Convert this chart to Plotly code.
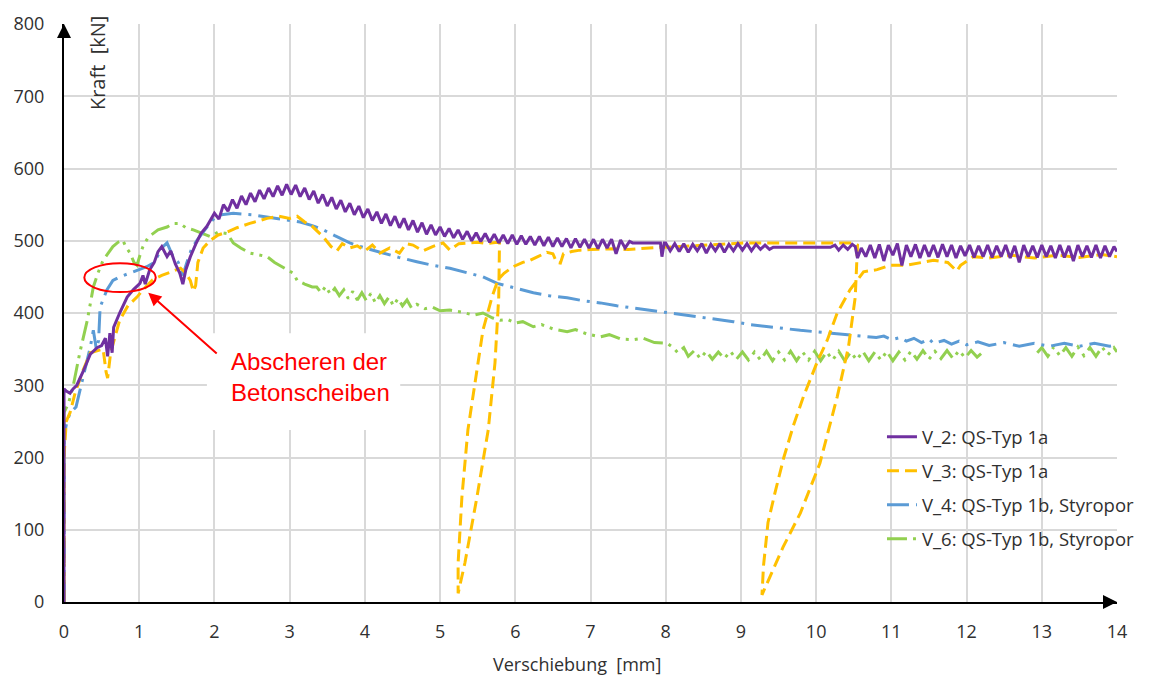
import plotly.graph_objects as go

# ---------------- data ----------------
v2_x = [0, 0.0, 0.03, 0.08, 0.12, 0.17, 0.25, 0.35, 0.44, 0.50, 0.55, 0.58, 0.61, 0.64, 0.66, 0.74, 0.84, 0.92,
        1.01, 1.05, 1.08, 1.14, 1.20, 1.25, 1.30, 1.37, 1.42, 1.48, 1.54, 1.58, 1.62, 1.68, 1.75, 1.82, 1.90, 1.95,
        2.00, 2.06, 2.12, 2.18, 2.24, 2.30, 2.36, 2.42, 2.48, 2.54, 2.60, 2.66, 2.72, 2.78, 2.84, 2.90, 2.96,
        3.02, 3.08, 3.14, 3.20, 3.26, 3.32, 3.38, 3.44, 3.50, 3.56, 3.62, 3.68, 3.74, 3.80, 3.86, 3.92, 3.98,
        4.04, 4.10, 4.16, 4.22, 4.28, 4.34, 4.40, 4.46, 4.52, 4.58, 4.64, 4.70, 4.76, 4.82, 4.88, 4.94,
        5.00, 5.06, 5.12, 5.18, 5.24, 5.30, 5.36, 5.42, 5.48, 5.54, 5.60, 5.66, 5.72, 5.78, 5.84, 5.90, 5.96,
        6.02, 6.08, 6.14, 6.20, 6.26, 6.32, 6.38, 6.44, 6.50, 6.56, 6.62, 6.68, 6.74, 6.80, 6.86, 6.92, 6.98,
        7.04, 7.10, 7.16, 7.22, 7.28, 7.34, 7.40, 7.46, 7.52, 7.56, 7.93, 7.95, 7.98,
        8.00, 8.06, 8.12, 8.18, 8.24, 8.30, 8.36, 8.42, 8.48, 8.54, 8.60, 8.66, 8.72, 8.78, 8.84, 8.90, 8.96,
        9.02, 9.08, 9.14, 9.20, 9.26, 9.32, 9.38, 9.43, 10.19,
        10.25, 10.30, 10.36, 10.42, 10.48, 10.52, 10.55, 10.60, 10.66, 10.72, 10.78, 10.84, 10.90, 10.96,
        11.02, 11.08, 11.14, 11.20, 11.26, 11.32, 11.38, 11.44, 11.50, 11.56, 11.62, 11.68, 11.74, 11.80, 11.86, 11.92, 11.98,
        12.04, 12.10, 12.16, 12.22, 12.28, 12.34, 12.40, 12.46, 12.52, 12.58, 12.64, 12.70, 12.76, 12.82, 12.88, 12.94,
        13.00, 13.06, 13.12, 13.18, 13.24, 13.30, 13.36, 13.42, 13.48, 13.54, 13.60, 13.66, 13.72, 13.78, 13.84, 13.90, 13.96, 14.00]
v2_y = [0, 295, 292, 289, 295, 300, 318, 343, 352, 355, 365, 340, 372, 345, 380, 400, 422, 432,
        441, 452, 440, 460, 470, 485, 492, 478, 486, 468, 455, 440, 460, 478, 495, 510, 520, 530,
        538, 530, 550, 541, 557, 545, 562, 550, 566, 554, 570, 558, 573, 561, 576, 563, 578,
        564, 577, 561, 573, 557, 569, 552, 564, 548, 560, 544, 556, 540, 552, 536, 548, 532,
        544, 528, 540, 524, 537, 521, 534, 518, 531, 515, 528, 512, 525, 509, 522, 508,
        519, 506, 517, 504, 515, 502, 513, 500, 511, 499, 510, 498, 509, 497, 508, 496, 508,
        495, 507, 495, 506, 494, 506, 493, 505, 492, 504, 492, 503, 490, 503, 491, 502, 490,
        502, 489, 502, 490, 502, 482, 501, 490, 499, 497, 497, 478, 497,
        497, 486, 496, 485, 496, 484, 495, 486, 496, 483, 495, 486, 496, 484, 495, 486, 496,
        487, 496, 486, 495, 488, 494, 488, 491, 491,
        494, 487, 494, 488, 495, 492, 476, 490, 478, 494, 476, 495, 472, 494,
        480, 496, 466, 494, 478, 495, 476, 494, 478, 494, 477, 495, 478, 494, 476, 493, 479,
        494, 477, 493, 478, 494, 477, 493, 478, 494, 476, 493, 470, 494, 478, 493, 477,
        494, 478, 493, 476, 494, 477, 493, 472, 494, 478, 493, 477, 494, 476, 493, 478, 492, 485]

v3_x = [0, 0.0, 0.03, 0.08, 0.15, 0.25, 0.35, 0.45, 0.52, 0.56, 0.58, 0.62, 0.66, 0.74, 0.85, 0.97,
        1.05, 1.18, 1.30, 1.45, 1.55, 1.62, 1.68, 1.72, 1.75, 1.78, 1.85, 1.94, 2.05, 2.17, 2.30, 2.47,
        2.60, 2.70, 2.85, 3.00, 3.10, 3.20, 3.30, 3.40, 3.45, 3.55, 3.63, 3.70, 3.80, 3.90, 4.00, 4.10,
        4.20, 4.33, 4.46, 4.55, 4.64, 4.77, 4.90, 5.04, 5.13, 5.25, 5.36, 5.50, 5.62, 5.76, 5.79,
        5.79, 5.78, 5.73, 5.64, 5.49, 5.33, 5.24,
        5.24, 5.29, 5.37, 5.47, 5.57, 5.69, 5.77, 5.85, 5.97, 6.10, 6.20, 6.30, 6.42, 6.50, 6.55, 6.60,
        6.64, 6.75, 6.86, 7.00, 7.30, 7.50, 7.75, 7.95, 8.19, 8.40, 8.63, 8.90, 9.08, 9.50, 10.00, 10.30,
        10.50, 10.55,
        10.54, 10.52, 10.43, 10.28, 10.05, 9.79, 9.56, 9.30, 9.28,
        9.30, 9.36, 9.45, 9.57, 9.70, 9.83, 10.01, 10.15, 10.28, 10.45, 10.55, 10.63, 10.81, 10.98, 11.20,
        11.40, 11.56, 11.75, 11.87, 11.92, 12.09, 12.30, 12.60, 12.90, 13.20, 13.50, 13.80, 14.00]
v3_y = [0, 200, 250, 262, 290, 320, 345, 348, 350, 318, 310, 345, 360, 390, 410, 422,
        432, 446, 452, 458, 462, 455, 445, 430, 438, 470, 490, 500, 508, 512, 518, 524,
        528, 531, 534, 531, 534, 526, 520, 510, 505, 492, 486, 496, 490, 493, 486, 494,
        483, 490, 483, 496, 494, 486, 492, 497, 487, 496, 497, 498, 496, 498, 497,
        440, 422, 331, 238, 145, 54, 12,
        54, 145, 238, 307, 376, 422, 446, 455, 464, 470, 473, 478, 484, 482, 470, 469,
        482, 485, 487, 488, 489, 488, 490, 491, 492, 493, 494, 496, 497, 497, 497, 497,
        497, 494,
        460, 422, 353, 284, 192, 123, 76, 17, 10,
        50, 110, 150, 200, 245, 284, 331, 363, 400, 432, 446, 457, 460, 466, 466,
        470, 473, 470, 458, 466, 478, 476, 480, 476, 480, 477, 481, 478]

v4_x = [0, 0.0, 0.04, 0.08, 0.16, 0.25, 0.30, 0.35, 0.39, 0.43, 0.46, 0.48, 0.57, 0.65, 0.74, 0.92,
        1.10, 1.20, 1.30, 1.37, 1.45, 1.52, 1.58, 1.63, 1.70, 1.77, 1.90, 2.03, 2.25, 2.50, 2.70, 2.90,
        3.14, 3.30, 3.45, 3.60, 3.80, 4.00, 4.24, 4.45, 4.69, 4.90, 5.13, 5.35, 5.57, 5.76, 6.00, 6.24,
        6.45, 6.69, 6.90, 7.13, 7.35, 7.57, 7.80, 8.02, 8.24, 8.46, 8.68, 8.90, 9.12, 9.35, 9.57, 9.79,
        10.00, 10.23, 10.45, 10.68, 10.80, 10.90, 11.00, 11.12, 11.20, 11.30, 11.40, 11.50, 11.56, 11.70,
        11.80, 11.90, 12.00, 12.15, 12.30, 12.50, 12.70, 12.90, 13.10, 13.30, 13.50, 13.70, 13.90, 14.00]
v4_y = [0, 230, 250, 261, 270, 311, 330, 353, 376, 350, 362, 408, 432, 445, 450, 457,
        464, 470, 490, 497, 478, 470, 452, 469, 490, 501, 519, 535, 538, 536, 533, 530,
        526, 521, 515, 507, 497, 490, 483, 477, 471, 466, 462, 456, 450, 441, 434, 428,
        424, 421, 417, 414, 410, 407, 403, 400, 397, 395, 391, 388, 384, 381, 378, 376,
        374, 372, 370, 368, 366, 368, 363, 366, 361, 365, 359, 364, 358, 362,
        357, 361, 356, 360, 355, 359, 354, 358, 354, 358, 354, 358, 354, 356]

v6_x = [0, 0.0, 0.06, 0.12, 0.21, 0.31, 0.39, 0.45, 0.52, 0.65, 0.72, 0.78, 0.83, 0.88, 0.93, 0.97,
        1.01, 1.05, 1.12, 1.18, 1.25, 1.37, 1.45, 1.54, 1.62, 1.72, 1.83, 1.94, 2.05, 2.17, 2.25, 2.35,
        2.47, 2.60, 2.70, 2.80, 2.91, 3.00, 3.05, 3.10, 3.20, 3.30, 3.36, 3.42, 3.48, 3.54, 3.60, 3.66,
        3.72, 3.78, 3.84, 3.90, 3.96, 4.02, 4.08, 4.14, 4.20, 4.26, 4.32, 4.38, 4.44, 4.50, 4.56, 4.62,
        4.69, 4.80, 4.90, 5.00, 5.13, 5.30, 5.45, 5.57, 5.70, 5.80, 5.90, 6.00, 6.10, 6.24, 6.35, 6.50,
        6.69, 6.80, 6.95, 7.13, 7.25, 7.40, 7.57, 7.70, 7.85, 8.02,
        8.10, 8.16, 8.24, 8.30, 8.38, 8.46, 8.54, 8.62, 8.70, 8.78, 8.86, 8.94, 9.02, 9.10, 9.18, 9.26,
        9.34, 9.42, 9.50, 9.58, 9.66, 9.74, 9.82, 9.90, 9.98, 10.06, 10.14, 10.22, 10.30, 10.38, 10.46,
        10.54, 10.62, 10.70, 10.78, 10.86, 10.94, 11.02, 11.10, 11.18, 11.26, 11.34, 11.42, 11.50, 11.58,
        11.66, 11.74, 11.82, 11.90, 11.98, 12.06, 12.14, 12.22, 12.50,
        12.94, 13.00, 13.08, 13.16, 13.24, 13.32, 13.40, 13.48, 13.56, 13.64, 13.72, 13.80, 13.88, 13.96, 14.00]
v6_y = [0, 262, 275, 298, 345, 390, 436, 455, 473, 492, 498, 501, 490, 483, 470, 466,
        480, 492, 505, 510, 515, 519, 524, 524, 518, 515, 510, 506, 512, 510, 497, 490,
        483, 480, 478, 470, 464, 458, 455, 445, 440, 436, 436, 428, 437, 426, 434, 424,
        432, 420, 430, 418, 428, 417, 427, 414, 424, 413, 422, 410, 420, 410, 418, 407,
        412, 406, 408, 403, 404, 401, 397, 400, 393, 390, 391, 386, 388, 381, 384, 378,
        374, 377, 371, 367, 370, 364, 363, 365, 359, 358,
        352, 345, 352, 340, 348, 337, 347, 336, 346, 337, 347, 336, 346, 335, 346, 335,
        347, 334, 346, 335, 347, 334, 346, 335, 347, 334, 346, 335, 347, 334, 346,
        335, 347, 334, 346, 335, 347, 334, 346, 335, 347, 336, 348, 336, 347,
        337, 348, 337, 348, 338, 348, 339, 346, None,
        345, 352, 340, 353, 341, 352, 340, 353, 341, 352, 340, 353, 342, 352, 346]

series_names = ["V_2: QS-Typ 1a", "V_3: QS-Typ 1a",
                "V_4: QS-Typ 1b, Styropor", "V_6: QS-Typ 1b, Styropor"]
x_ticks = list(range(0, 15))
y_ticks = list(range(0, 801, 100))

# ---------------- figure ----------------
FONT = "Open Sans"
TXT = "#303030"
styles = [
    dict(color="#7030A0", width=3, dash="solid"),
    dict(color="#FFC000", width=3, dash="12px,6px"),
    dict(color="#5B9BD5", width=3, dash="22px,7px,3px,7px"),
    dict(color="#92D050", width=3, dash="20px,6px,3px,6px,3px,6px"),
]
data = [(v2_x, v2_y), (v3_x, v3_y), (v4_x, v4_y), (v6_x, v6_y)]

fig = go.Figure()
# add in reverse so purple is drawn on top; legendrank keeps the reference order
for i in [3, 2, 1, 0]:
    xs, ys = data[i]
    fig.add_trace(go.Scatter(x=xs, y=ys, mode="lines", name=series_names[i], line=styles[i],
                             legendgroup="g%d" % i, legendrank=i + 1, connectgaps=False))

fig.update_layout(
    width=1158, height=676,
    margin=dict(l=64, r=41, t=24, b=74),
    paper_bgcolor="white", plot_bgcolor="white",
    font=dict(family=FONT, size=18, color=TXT),
    showlegend=True,
    legend=dict(x=0.7768, y=0.318, xanchor="left", yanchor="top",
                bgcolor="rgba(0,0,0,0)", traceorder="grouped",
                tracegroupgap=7, font=dict(family=FONT, size=18.5, color=TXT)),
    xaxis=dict(range=[0, 14], tickvals=x_ticks, showgrid=True, gridcolor="#D9D9D9", gridwidth=1.5,
               zeroline=False, showline=True, linecolor="black", linewidth=2,
               ticks="", ticklabelstandoff=12),
    yaxis=dict(range=[0, 800], tickvals=y_ticks, showgrid=True, gridcolor="#D9D9D9", gridwidth=1.5,
               zeroline=False, showline=True, linecolor="black", linewidth=2,
               ticks="", ticklabelstandoff=14),
)

# white box behind the annotation text
fig.add_shape(type="rect", xref="x", yref="y", x0=1.9, x1=4.47, y0=238, y1=372,
              fillcolor="white", line=dict(width=0), layer="between")

# red ellipse
fig.add_shape(type="circle", xref="x", yref="y", x0=0.27, x1=1.22, y0=429, y1=469,
              line=dict(color="#FF0000", width=2))

# red arrow
fig.add_annotation(x=1.12, y=428, ax=2.05, ay=342, xref="x", yref="y", axref="x", ayref="y",
                   text="", showarrow=True, arrowhead=2, arrowsize=1.3, arrowwidth=2,
                   arrowcolor="#FF0000")
fig.add_annotation(x=2.2, y=312, xref="x", yref="y", xanchor="left", yanchor="middle",
                   text="Abscheren der<br>Betonscheiben", showarrow=False, align="left",
                   font=dict(family="Liberation Sans, Arial", size=24, color="#FF0000"))

# axis arrowheads
fig.add_annotation(x=14, y=0, ax=13.8, ay=0, xref="x", yref="y", axref="x", ayref="y",
                   text="", showarrow=True, arrowhead=2, arrowsize=1.4, arrowwidth=2,
                   arrowcolor="black")
fig.add_annotation(x=0, y=800, ax=0, ay=780, xref="x", yref="y", axref="x", ayref="y",
                   text="", showarrow=True, arrowhead=2, arrowsize=1.4, arrowwidth=2,
                   arrowcolor="black")

# axis titles
fig.add_annotation(x=0.44, y=746, xref="x", yref="y", text="Kraft\u00a0 [kN]", showarrow=False,
                   textangle=-90, font=dict(family=FONT, size=20, color=TXT))
fig.add_annotation(x=6.82, y=-0.107, xref="x", yref="paper", yanchor="middle",
                   text="Verschiebung\u00a0 [mm]", showarrow=False,
                   font=dict(family=FONT, size=18, color=TXT))

fig.write_html("out.html")
